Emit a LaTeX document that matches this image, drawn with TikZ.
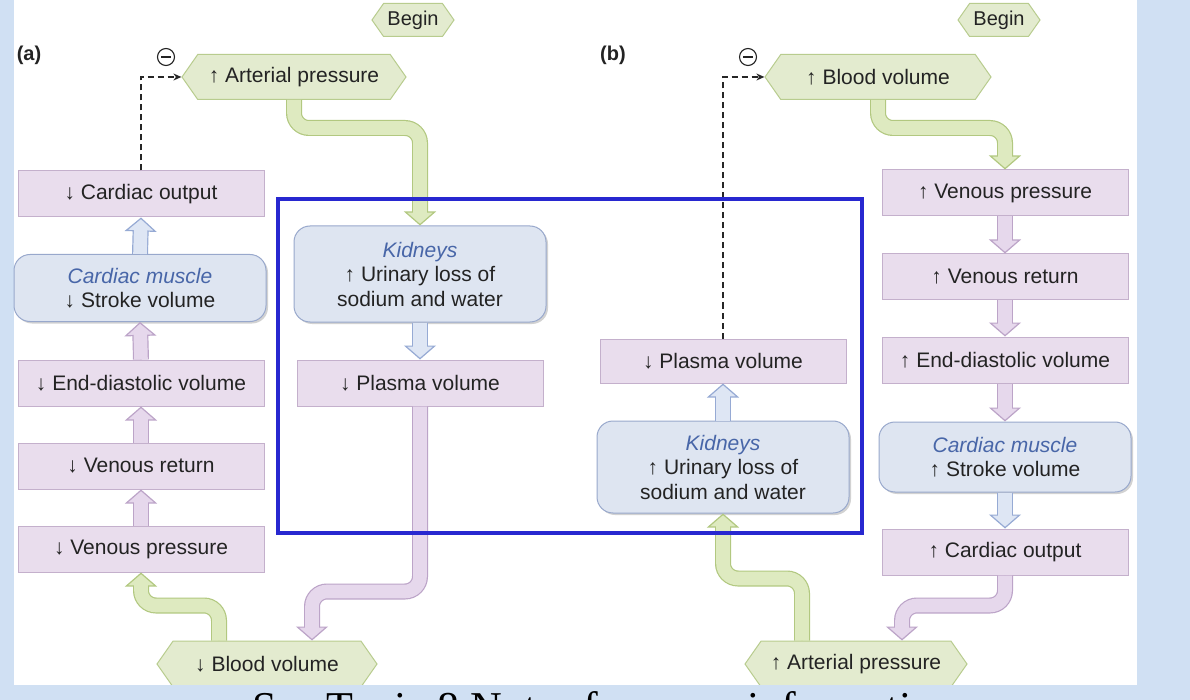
\documentclass[tikz,border=0pt]{standalone}
\usepackage{fontspec}
\setmainfont{Liberation Sans}
\newfontfamily\notefont{Liberation Serif}
\usetikzlibrary{shapes.symbols,shadows,arrows.meta}
\definecolor{bgblue}{RGB}{208,224,243}
\definecolor{ink}{RGB}{35,35,35}
\definecolor{organ}{RGB}{72,102,168}
\definecolor{boxfill}{RGB}{233,221,237}
\definecolor{boxline}{RGB}{196,176,204}
\definecolor{roundfill}{RGB}{222,229,241}
\definecolor{roundline}{RGB}{152,168,204}
\definecolor{hexfill}{RGB}{227,235,207}
\definecolor{hexline}{RGB}{184,204,142}
\definecolor{greenfill}{RGB}{222,234,192}
\definecolor{greenline}{RGB}{178,200,128}
\definecolor{pinkfill}{RGB}{230,216,236}
\definecolor{pinkline}{RGB}{188,164,200}
\definecolor{bluefill}{RGB}{222,230,244}
\definecolor{blueline}{RGB}{150,170,212}
\definecolor{frameblue}{RGB}{40,40,208}

\begin{document}
\begin{tikzpicture}[x=1pt,y=1pt,yscale=-1]
	\tikzstyle{box}=[draw=boxline,fill=boxfill,line width=1pt,minimum width=246pt,minimum height=46pt,inner sep=0pt,text=ink,font=\fontsize{21}{24.5}\selectfont];
	\tikzstyle{roundbox}=[draw=roundline,fill=roundfill,line width=1pt,rounded corners=16pt,minimum width=252pt,inner sep=0pt,align=center,text=ink,font=\fontsize{21}{24.5}\selectfont,drop shadow={shadow xshift=2pt,shadow yshift=-2pt,fill=black!35,opacity=.5}];
	\tikzstyle{hexa}=[shape=signal,signal to=west and east,signal pointer angle=110,draw=hexline,fill=hexfill,line width=1pt,minimum height=46pt,inner ysep=0pt,text=ink,font=\fontsize{21}{24.5}\selectfont];
	\tikzstyle{greenpipe}=[draw=greenline,line width=1.2pt,rounded corners=15pt,-{Triangle[width=32pt,length=14pt,fill=greenfill]},postaction={draw=greenline,line width=16pt,shorten >=13.5pt,-},postaction={draw=greenfill,line width=13.6pt,shorten >=12pt,-}];
	\tikzstyle{pinkpipe}=[draw=pinkline,line width=1.2pt,rounded corners=15pt,-{Triangle[width=32pt,length=14pt,fill=pinkfill]},postaction={draw=pinkline,line width=16pt,shorten >=13.5pt,-},postaction={draw=pinkfill,line width=13.6pt,shorten >=12pt,-}];
	\tikzstyle{bluepipe}=[draw=blueline,line width=1.2pt,rounded corners=15pt,-{Triangle[width=32pt,length=14pt,fill=bluefill]},postaction={draw=blueline,line width=16pt,shorten >=13.5pt,-},postaction={draw=bluefill,line width=13.6pt,shorten >=12pt,-}];
	\tikzstyle{feedback}=[draw=black!85,line width=1.3pt,dash pattern=on 6pt off 4pt,-{Stealth[length=8pt,width=7pt]}];
	\tikzstyle{minus}=[circle,draw=ink,line width=1.1pt,minimum size=17pt,inner sep=0pt];

	\clip (0,0) rectangle (1190,700);
	\fill[bgblue] (0,0) rectangle (1190,700);
	\fill[white] (14,0) rectangle (1137,685);

	% (a)
	\node[font=\fontsize{20}{24}\selectfont\bfseries,text=ink] (laba) at (29,55) {(a)};
	\node[hexa,minimum width=82pt,minimum height=33pt,font=\fontsize{20}{24}\selectfont] (bega) at (413,20) {Begin};
	\node[hexa,minimum width=224pt,minimum height=45pt] (apa) at (294,77) {↑ Arterial pressure};
	\node[minus] (minusa) at (166,57) {};
	\draw[ink,line width=1.3pt] ([xshift=-5pt]minusa.center) -- ([xshift=5pt]minusa.center);
	\node[box] (coa) at (141,194) {↓ Cardiac output};
	\node[roundbox,minimum height=67pt] (cma) at (140,288) {{\itshape\color{organ}Cardiac muscle}\\↓ Stroke volume};
	\node[box] (eda) at (141,383) {↓ End-diastolic volume};
	\node[box] (vra) at (141,466) {↓ Venous return};
	\node[box] (vpa) at (141,549) {↓ Venous pressure};
	\node[hexa,minimum width=220pt] (bva) at (267,664) {↓ Blood volume};
	\node[roundbox,minimum height=96pt] (kida) at (420,274) {{\itshape\color{organ}Kidneys}\\↑ Urinary loss of\\sodium and water};
	\node[box] (pla) at (420,383) {↓ Plasma volume};

	% (b)
	\node[font=\fontsize{20}{24}\selectfont\bfseries,text=ink] (labb) at (613,55) {(b)};
	\node[hexa,minimum width=82pt,minimum height=33pt,font=\fontsize{20}{24}\selectfont] (begb) at (999,20) {Begin};
	\node[hexa,minimum width=226pt,minimum height=45pt] (bvb) at (878,77) {↑ Blood volume};
	\node[minus] (minusb) at (748,57) {};
	\draw[ink,line width=1.3pt] ([xshift=-5pt]minusb.center) -- ([xshift=5pt]minusb.center);
	\node[box] (vpb) at (1005,193) {↑ Venous pressure};
	\node[box] (vrb) at (1005,277) {↑ Venous return};
	\node[box] (edb) at (1005,360) {↑ End-diastolic volume};
	\node[roundbox,minimum height=70pt] (cmb) at (1005,457) {{\itshape\color{organ}Cardiac muscle}\\↑ Stroke volume};
	\node[box] (cob) at (1005,552) {↑ Cardiac output};
	\node[box,minimum height=44pt] (plb) at (723,361) {↓ Plasma volume};
	\node[roundbox,minimum height=92pt] (kidb) at (723,467) {{\itshape\color{organ}Kidneys}\\↑ Urinary loss of\\sodium and water};
	\node[hexa,minimum width=222pt] (apb) at (856,664) {↑ Arterial pressure};

	\draw[greenpipe] (apa.south) -- ++(0,28) -| (kida.north);
	\draw[bluepipe] (kida.south) -- (pla.north);
	\draw[pinkpipe] (pla.south) -- ++(0,185) -| ([xshift=45pt]bva.north);
	\draw[greenpipe] ([xshift=-48pt]bva.north) -- ++(0,-35) -| (vpa.south);
	\draw[pinkpipe] (vpa.north) -- (vra.south);
	\draw[pinkpipe] (vra.north) -- (eda.south);
	\draw[pinkpipe] (eda.north) -- (cma.south);
	\draw[bluepipe] (cma.north) -- (coa.south);
	\draw[feedback] (coa.north) |- (apa.west);

	\draw[greenpipe] (bvb.south) -- ++(0,28) -| (vpb.north);
	\draw[pinkpipe] (vpb.south) -- (vrb.north);
	\draw[pinkpipe] (vrb.south) -- (edb.north);
	\draw[pinkpipe] (edb.south) -- (cmb.north);
	\draw[bluepipe] (cmb.south) -- (cob.north);
	\draw[pinkpipe] (cob.south) -- ++(0,30) -| ([xshift=46pt]apb.north);
	\draw[greenpipe] ([xshift=-54pt]apb.north) -- ++(0,-62) -| (kidb.south);
	\draw[bluepipe] (kidb.north) -- (plb.south);
	\draw[feedback] (plb.north) |- (bvb.west);

	\draw[frameblue,line width=3.5pt] (278,199) rectangle (862,533);

	\fill[bgblue] (0,685) rectangle (1190,700);
	\node[anchor=base west,inner sep=0pt,font=\notefont\fontsize{44}{48}\selectfont] (note) at (252,722) {See Topic 8 Notes for more information};
\end{tikzpicture}
\end{document}
